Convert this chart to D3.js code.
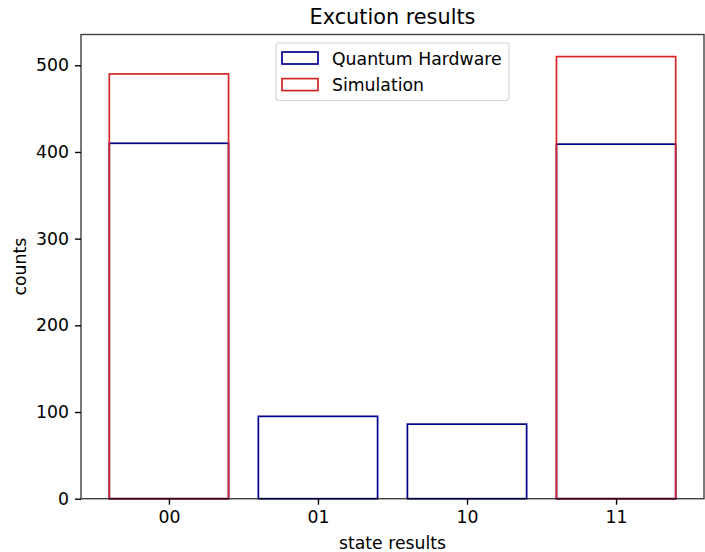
<!DOCTYPE html>
<html><head><meta charset="utf-8">
<script src="https://cdn.jsdelivr.net/npm/d3@7"></script>
<style>body{margin:0;background:#fff}svg{font-family:"DejaVu Sans",sans-serif}</style>
</head><body>
<svg id="c" width="705" height="552"></svg>
<script>
const categories = ["00","01","10","11"];
const hardware = [410, 95, 86, 409];
const simulation = [490, 0, 0, 510];
const yTicks = [0,100,200,300,400,500];
const seriesNames = ["Quantum Hardware","Simulation"];
const colors = ["#00008b","#d62728"];

const svg = d3.select("#c");
const m = {l:81, r:704, t:34.5, b:498.7};
const x = d3.scaleLinear().domain([-0.59, 3.59]).range([m.l, m.r]);
const y = d3.scaleLinear().domain([0, 535.5]).range([m.b, m.t]);
const bw = 0.8;
const lw = 1.7;
const fs = "17.3px";

function bars(data, color){
  svg.append("g").selectAll("rect").data(data).join("rect")
    .attr("x", (d,i)=>x(i-bw/2)).attr("width", (d,i)=>x(i+bw/2)-x(i-bw/2))
    .attr("y", d=>y(d)).attr("height", d=>y(0)-y(d))
    .attr("fill","none").attr("stroke",color).attr("stroke-width",lw);
}
bars(hardware, colors[0]);
bars(simulation, colors[1]);

// axes
const xAxis = d3.axisBottom(x).tickValues(d3.range(categories.length)).tickFormat(i=>categories[i]).tickSize(6).tickPadding(6);
const yAxis = d3.axisLeft(y).tickValues(yTicks).tickSize(6).tickPadding(6);
const gx = svg.append("g").attr("transform",`translate(0,${m.b})`).call(xAxis);
const gy = svg.append("g").attr("transform",`translate(${m.l},0)`).call(yAxis);
[gx,gy].forEach(g=>{
  g.select(".domain").remove();
  g.selectAll("text").attr("font-size",fs).attr("fill","#000").attr("font-family","DejaVu Sans");
  g.selectAll("line").attr("stroke","#000").attr("stroke-width",1.4);
});
// frame
svg.append("rect").attr("x",m.l).attr("y",m.t).attr("width",m.r-m.l).attr("height",m.b-m.t)
  .attr("fill","none").attr("stroke","#000").attr("stroke-opacity",0.75).attr("stroke-width",1.4);

// title & labels
svg.append("text").attr("x",(m.l+m.r)/2).attr("y",24).attr("text-anchor","middle")
  .attr("font-size","20.8px").text("Excution results");
svg.append("text").attr("x",(m.l+m.r)/2).attr("y",549).attr("text-anchor","middle")
  .attr("font-size",fs).text("state results");
svg.append("text").attr("transform",`translate(26,${(m.t+m.b)/2}) rotate(-90)`).attr("text-anchor","middle")
  .attr("font-size",fs).text("counts");

// legend
const lg = svg.append("g");
lg.append("rect").attr("x",276).attr("y",43).attr("width",233).attr("height",57.5).attr("rx",3)
  .attr("fill","#fff").attr("fill-opacity",0.8).attr("stroke","#d6d6d6").attr("stroke-width",1.2);
seriesNames.forEach((n,i)=>{
  const yy = 52 + i*26.6;
  lg.append("rect").attr("x",282).attr("y",yy).attr("width",36).attr("height",12)
    .attr("fill","none").attr("stroke",colors[i]).attr("stroke-width",lw);
  lg.append("text").attr("x",332).attr("y",yy+12.5).attr("font-size",fs).text(n);
});
</script>
</body></html>
